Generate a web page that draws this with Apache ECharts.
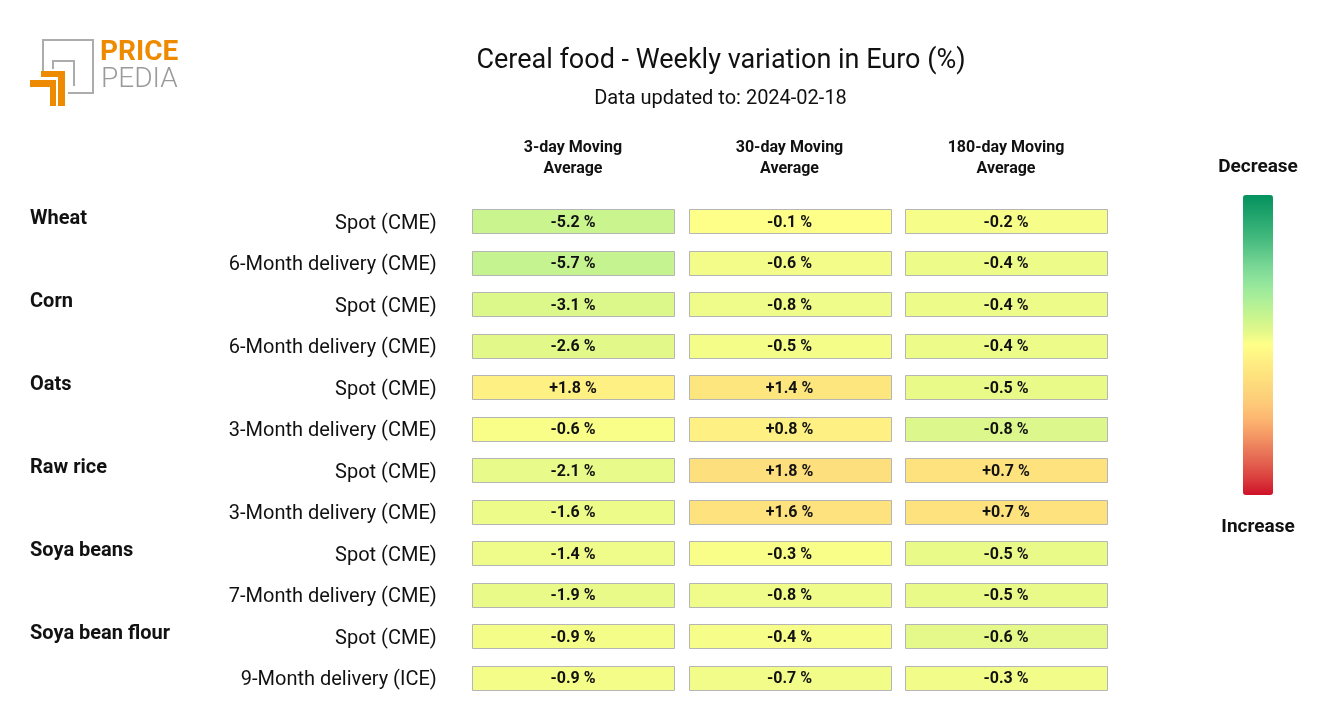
<!DOCTYPE html>
<html>
<head>
<meta charset="utf-8">
<script src="https://cdn.jsdelivr.net/npm/echarts@6/dist/echarts.min.js"></script>
<style>html,body{margin:0;padding:0;background:#fff}#c{width:1320px;height:720px}</style>
</head>
<body>
<div id="c"></div>
<script>
const columns = ['3-day Moving\nAverage', '30-day Moving\nAverage', '180-day Moving\nAverage'];
const rowLabels = ['Spot (CME)', '6-Month delivery (CME)', 'Spot (CME)', '6-Month delivery (CME)', 'Spot (CME)', '3-Month delivery (CME)', 'Spot (CME)', '3-Month delivery (CME)', 'Spot (CME)', '7-Month delivery (CME)', 'Spot (CME)', '9-Month delivery (ICE)'];
const groupLabels = ['Wheat', '', 'Corn', '', 'Oats', '', 'Raw rice', '', 'Soya beans', '', 'Soya bean flour', ''];
const ma3 = [-5.2, -5.7, -3.1, -2.6, 1.8, -0.6, -2.1, -1.6, -1.4, -1.9, -0.9, -0.9];
const ma30 = [-0.1, -0.6, -0.8, -0.5, 1.4, 0.8, 1.8, 1.6, -0.3, -0.8, -0.4, -0.7];
const ma180 = [-0.2, -0.4, -0.4, -0.4, -0.5, -0.8, 0.7, 0.7, -0.5, -0.5, -0.6, -0.3];
const title = 'Cereal food - Weekly variation in Euro (%)';
const subtitle = 'Data updated to: 2024-02-18';
const legendText = ['Decrease', 'Increase'];

// colour scale: position 0 = strong decrease (green), 1 = strong increase (red)
const stops = [
  [0, '#05925f'], [0.13, '#3cb57a'], [0.24, '#7ad896'], [0.32, '#9eec9e'],
  [0.405, '#c8f48e'], [0.45, '#e0f88a'], [0.5, '#ffff88'], [0.6, '#fee27e'],
  [0.69, '#fdcc78'], [0.77, '#fbac6c'], [0.85, '#ea7a5a'], [0.93, '#dd4a44'], [1, '#cf1128']
];
function hex(c){return [parseInt(c.slice(1,3),16),parseInt(c.slice(3,5),16),parseInt(c.slice(5,7),16)];}
function colorAt(p){
  p = Math.max(0, Math.min(1, p));
  for (let i = 1; i < stops.length; i++) {
    if (p <= stops[i][0]) {
      const a = stops[i-1], b = stops[i];
      const t = (p - a[0]) / (b[0] - a[0]);
      const ca = hex(a[1]), cb = hex(b[1]);
      return 'rgb(' + ca.map((v,k)=>Math.round(v + (cb[k]-v)*t)).join(',') + ')';
    }
  }
  return stops[stops.length-1][1];
}
// per-column ranges (negative, positive)
const ranges = [[28, 18], [16, 8], [7, 3.5]];
function cellColor(v, col){
  const r = ranges[col];
  const t = v < 0 ? v / r[0] : v / r[1];
  return colorAt(0.5 + t / 2);
}
function fmt(v){ return (v > 0 ? '+' : '') + v.toFixed(1) + ' %'; }

const allCols = [ma3, ma30, ma180];
const series = allCols.map((arr, ci) => ({
  type: 'custom',
  xAxisIndex: 0, yAxisIndex: 0,
  data: arr.map((v, ri) => [ci, ri, v]),
  renderItem: function(params, api){
    const c = api.coord([api.value(0), api.value(1)]);
    const sz = api.size([1, 1]);
    const w = sz[0] - 15, h = 24;
    const v = api.value(2);
    return {
      type: 'group',
      children: [{
        type: 'rect',
        shape: {x: Math.round(c[0] - w/2) + 0.5, y: Math.round(c[1] - h/2) + 0.5, width: Math.round(w), height: h},
        style: {fill: cellColor(v, ci), stroke: '#b5b5b5', lineWidth: 1}
      }, {
        type: 'text',
        x: c[0], y: c[1] + 1.5,
        style: {text: fmt(v), fill: '#111', font: 'bold 16px Roboto', align: 'center', verticalAlign: 'middle'}
      }]
    };
  }
}));

// display colour bar samples (min -> max : red -> green so that top is green)
const barColors = [];
for (let i = 0; i <= 20; i++) barColors.push(colorAt(1 - i / 20));

const chart = echarts.init(document.getElementById('c'), null, {renderer: 'canvas'});
chart.setOption({
  animation: false,
  backgroundColor: '#fff',
  title: [{
    text: title, left: 716, top: 43, textAlign: 'center',
    textStyle: {fontFamily: 'Roboto', fontWeight: 'normal', fontSize: 27, color: '#111'}
  }, {
    text: subtitle, left: 715.5, top: 84, textAlign: 'center',
    textStyle: {fontFamily: 'Roboto', fontWeight: 'normal', fontSize: 20, color: '#111'}
  }],
  grid: {left: 464.75, right: 205.75, top: 200.25, height: 498.5},
  xAxis: {
    type: 'category', data: columns, position: 'top',
    axisLine: {show: false}, axisTick: {show: false}, splitLine: {show: false},
    axisLabel: {margin: 21, fontFamily: 'Roboto', fontWeight: 'bold', fontSize: 16, lineHeight: 21, color: '#111', align: 'center'}
  },
  yAxis: [{
    type: 'category', data: rowLabels, inverse: true,
    axisLine: {show: false}, axisTick: {show: false}, splitLine: {show: false},
    axisLabel: {margin: 28, fontFamily: 'Roboto', fontSize: 20, color: '#111', verticalAlign: 'top', lineHeight: 5}
  }, {
    type: 'category', data: groupLabels, inverse: true, position: 'left',
    axisLine: {show: false}, axisTick: {show: false}, splitLine: {show: false},
    axisLabel: {margin: 434.75, align: 'left', fontFamily: 'Roboto', fontWeight: 'bold', fontSize: 20, color: '#111', verticalAlign: 'bottom', lineHeight: 4}
  }],
  visualMap: {
    type: 'continuous', seriesIndex: [], min: 0, max: 1, calculable: false,
    orient: 'vertical', left: 1228, top: 180, itemWidth: 30, itemHeight: 300,
    showLabel: false,
    inRange: {color: barColors}
  },
  graphic: [
    {type: 'polyline', shape: {points: [[43, 72], [43, 40], [93, 40], [93, 93], [68, 93]]}, style: {fill: null, stroke: '#acacac', lineWidth: 2}},
    {type: 'polyline', shape: {points: [[53, 69], [53, 61], [74, 61], [74, 86]]}, style: {fill: null, stroke: '#acacac', lineWidth: 2}},
    {type: 'polygon', shape: {points: [[41, 71], [65, 71], [65, 106], [58, 106], [58, 77], [41, 77]]}, style: {fill: '#ee8a00'}},
    {type: 'polygon', shape: {points: [[30, 80], [56, 80], [56, 106], [50, 106], [50, 87], [30, 87]]}, style: {fill: '#ee8a00'}},
    {type: 'text', left: 100, top: 39, style: {text: 'PRICE', font: 'bold 28px Roboto', fill: '#ee8a00'}},
    {type: 'text', left: 101, top: 66, style: {text: 'PEDIA', font: '300 28px Roboto', fill: '#9a9a9a'}},
    {type: 'text', x: 1258, y: 167, style: {text: legendText[0], font: 'bold 19px Roboto', fill: '#111', align: 'center', verticalAlign: 'middle'}},
    {type: 'text', x: 1258, y: 527, style: {text: legendText[1], font: 'bold 19px Roboto', fill: '#111', align: 'center', verticalAlign: 'middle'}}
  ],
  series: series
});
</script>
</body>
</html>
